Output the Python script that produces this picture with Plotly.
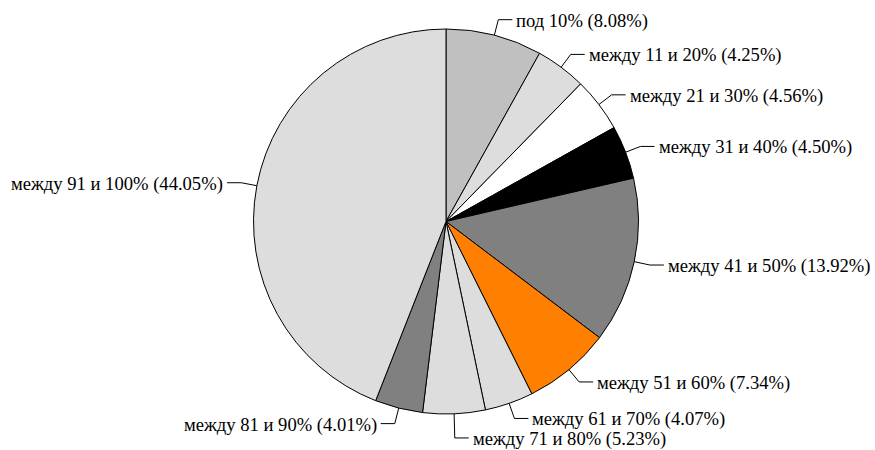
import math
import plotly.graph_objects as go

categories = ["под 10%", "между 11 и 20%", "между 21 и 30%", "между 31 и 40%",
              "между 41 и 50%", "между 51 и 60%", "между 61 и 70%",
              "между 71 и 80%", "между 81 и 90%", "между 91 и 100%"]
shares = [8.08, 4.25, 4.56, 4.50, 13.92, 7.34, 4.07, 5.23, 4.01, 44.05]
colors = ["#c0c0c0", "#dddddd", "#ffffff", "#000000", "#808080",
          "#ff8000", "#dddddd", "#dddddd", "#808080", "#dddddd"]

W, H = 875, 450
CX, CY, R = 446.0, 221.5, 192.5

fig = go.Figure(go.Pie(
    labels=categories, values=shares, sort=False, direction="clockwise",
    rotation=0, marker=dict(colors=colors, line=dict(color="#000000", width=1)),
    textinfo="none", showlegend=False,
    domain=dict(x=[(CX - R) / W, (CX + R) / W], y=[(H - CY - R) / H, (H - CY + R) / H]),
))

def px(x):
    return x / W

def py(y):
    return 1 - y / H

total = sum(shares)
cum = 0.0
items = []
for cat, v in zip(categories, shares):
    mid = (cum + v / 2) / total * 2 * math.pi
    cum += v
    sx, sy = CX + R * math.sin(mid), CY - R * math.cos(mid)
    ex, ey = CX + (R + 16) * math.sin(mid), CY - (R + 16) * math.cos(mid)
    side = 1 if math.sin(mid) >= 0 else -1
    items.append(dict(text=f"{cat} ({v:.2f}%)", sx=sx, sy=sy, ex=ex, ey=ey, side=side))

# avoid overlapping labels on each side (push down)
for side in (1, -1):
    grp = sorted([it for it in items if it["side"] == side], key=lambda d: d["ey"])
    for a, b in zip(grp, grp[1:]):
        if b["ey"] - a["ey"] < 19.5:
            b["ey"] = a["ey"] + 19.5

shapes = []
annotations = []
for it in items:
    hx = it["ex"] + it["side"] * 14
    shapes.append(dict(type="path", xref="paper", yref="paper",
                       path=f"M {px(it['sx'])},{py(it['sy'])} L {px(it['ex'])},{py(it['ey'])} L {px(hx)},{py(it['ey'])}",
                       line=dict(color="#000000", width=1)))
    annotations.append(dict(x=px(hx + it["side"] * 2), y=py(it["ey"] + 1), xref="paper", yref="paper",
                            text=it["text"], showarrow=False,
                            xanchor="left" if it["side"] > 0 else "right", yanchor="middle",
                            font=dict(family="Liberation Serif", size=18.6, color="#000000")))

fig.update_layout(width=W, height=H, margin=dict(l=0, r=0, t=0, b=0),
                  paper_bgcolor="#ffffff", plot_bgcolor="#ffffff",
                  shapes=shapes, annotations=annotations)

fig.write_html("out.html")
